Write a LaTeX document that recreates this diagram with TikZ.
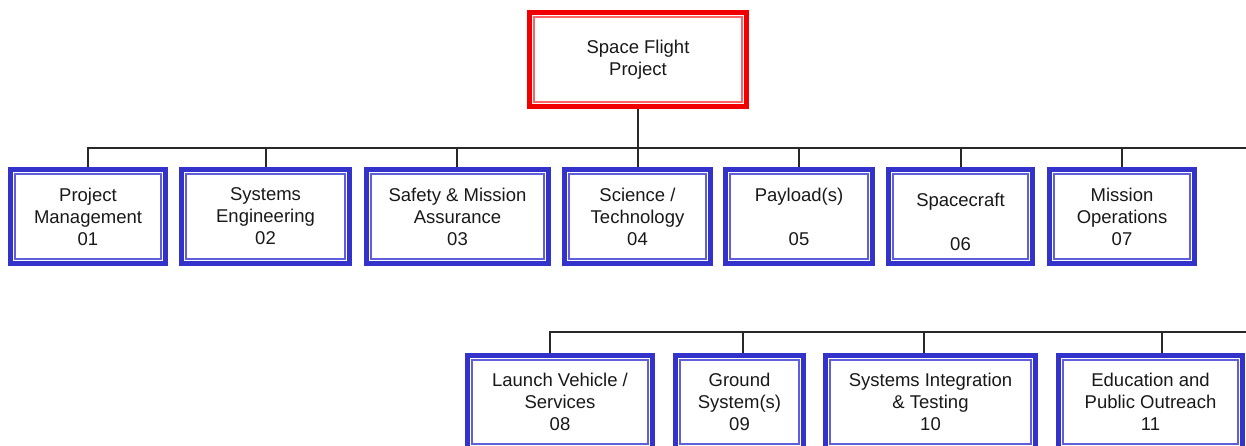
\documentclass[tikz,border=0pt]{standalone}
\usepackage{fontspec}
\setmainfont{Liberation Sans}
\definecolor{boxblue}{RGB}{51,51,204}
\definecolor{innerblue}{RGB}{95,95,220}
\definecolor{boxred}{RGB}{240,0,0}
\definecolor{innerred}{RGB}{255,100,100}
\definecolor{linegray}{RGB}{40,40,40}
\definecolor{txt}{RGB}{25,25,25}
\tikzset{
  wbsbox/.style={draw=#1, line width=5pt, fill=white, inner sep=0pt, align=center,
    text=txt, font=\fontsize{18.5}{22}\selectfont},
  bluebox/.style={wbsbox=boxblue,
    path picture={\draw[innerblue, line width=1.2pt]
      ([shift={(4.5pt,-4.5pt)}]path picture bounding box.north west) rectangle
      ([shift={(-4.5pt,4.5pt)}]path picture bounding box.south east);}},
  redbox/.style={wbsbox=boxred,
    path picture={\draw[innerred, line width=1.2pt]
      ([shift={(4.5pt,-4.5pt)}]path picture bounding box.north west) rectangle
      ([shift={(-4.5pt,4.5pt)}]path picture bounding box.south east);}},
  conn/.style={draw=linegray, line width=1.6pt},
}
\begin{document}
\begin{tikzpicture}[x=1pt,y=-1pt]
\useasboundingbox (0,0) rectangle (1246,445);
\clip (0,0) rectangle (1246,445);
\fill[white] (0,0) rectangle (1246,445);

% top node
\node[redbox, minimum width=217pt, minimum height=94pt] (top) at (638,59.5) {Space Flight\\Project};

% row 1
\node[bluebox, minimum width=155pt, minimum height=94pt] (p01) at (88,216.5) {Project\\Management\\01};
\node[bluebox, minimum width=168pt, minimum height=94pt] (p02) at (265.5,216.5) {Systems\\Engineering\\02};
\node[bluebox, minimum width=182pt, minimum height=94pt] (p03) at (457.5,216.5) {Safety \& Mission\\Assurance\\03};
\node[bluebox, minimum width=146pt, minimum height=94pt] (p04) at (637.5,216.5) {Science /\\Technology\\04};
\node[bluebox, minimum width=147pt, minimum height=94pt] (p05) at (799,216.5) {Payload(s)\\\mbox{}\\05};
\node[bluebox, minimum width=144pt, minimum height=94pt] (p06) at (960.5,216.5) {\rule{0pt}{24pt}Spacecraft\\\mbox{}\\06};
\node[bluebox, minimum width=145pt, minimum height=94pt] (p07) at (1122,216.5) {Mission\\Operations\\07};

% row 2
\node[bluebox, minimum width=185pt, minimum height=93pt] (p08) at (560,402) {Launch Vehicle /\\Services\\08};
\node[bluebox, minimum width=128pt, minimum height=93pt] (p09) at (739.5,402) {Ground\\System(s)\\09};
\node[bluebox, minimum width=210pt, minimum height=93pt] (p10) at (930.5,402) {Systems Integration\\\& Testing\\10};
\node[bluebox, minimum width=184pt, minimum height=93pt] (p11) at (1150.5,402) {Education and\\Public Outreach\\11};

% connectors row 1
\coordinate (bus1) at (638,148);
\coordinate (bus1R) at (1246,148);
\draw[conn] (top.south) -- (top.south |- bus1);
\draw[conn] (top.south |- bus1) -| (p01.north);
\draw[conn] (top.south |- bus1) -| ([xshift=0.5pt]p02.north);
\draw[conn] (top.south |- bus1) -| ([xshift=-0.5pt]p03.north);
\draw[conn] (top.south |- bus1) -| ([xshift=0.5pt]p04.north);
\draw[conn] (top.south |- bus1) -| (p05.north);
\draw[conn] (top.south |- bus1) -| ([xshift=0.5pt]p06.north);
\draw[conn] (top.south |- bus1) -| (p07.north);
\draw[conn] (top.south |- bus1) -- (bus1R);

% connectors row 2
\coordinate (bus2R) at (1246,332);
\draw[conn] (bus2R) -| ([xshift=-10pt]p08.north);
\draw[conn] (bus2R) -| ([xshift=3.5pt]p09.north);
\draw[conn] (bus2R) -| ([xshift=-6.5pt]p10.north);
\draw[conn] (bus2R) -| ([xshift=11.5pt]p11.north);
\end{tikzpicture}
\end{document}
